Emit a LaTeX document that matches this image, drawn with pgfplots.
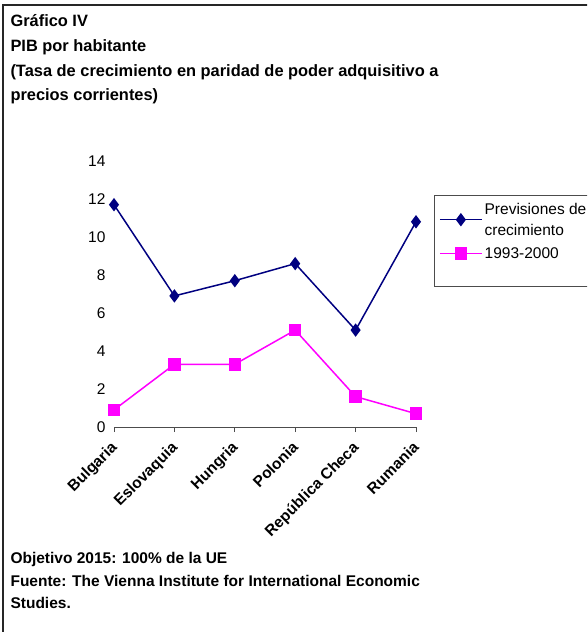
\documentclass[border=0pt]{standalone}
\usepackage{pgfplots}
\pgfplotsset{compat=1.18}
\usepackage{fontspec}
\setmainfont{Liberation Sans}
\definecolor{serieA}{RGB}{0,0,128}
\definecolor{serieB}{RGB}{255,0,255}
\newcommand{\fs}{\fontsize{15.5}{21}\selectfont}
\newcommand{\ft}{\fontsize{16.4}{22}\selectfont}

\begin{document}
\begin{tikzpicture}
\useasboundingbox (0pt,0pt) rectangle (587pt,-632pt);
\begin{scope}[x=1pt,y=-1pt]
\begin{scope}
\clip (0,0) rectangle (587,632);
\draw[line width=1.4pt, black!85] (3,5) rectangle (620,660);
\draw[line width=0.8pt, black!70] (434,195) rectangle (620,286);
\end{scope}

% titulo
\node[anchor=base west, font=\bfseries\ft] at (7,26) {Gráfico IV};
\node[anchor=base west, font=\bfseries\ft] at (7,51) {PIB por habitante};
\node[anchor=base west, font=\bfseries\ft] at (7,76) {(Tasa de crecimiento en paridad de poder adquisitivo a};
\node[anchor=base west, font=\bfseries\ft] at (7,100) {precios corrientes)};

% notas
\node[anchor=base west, font=\bfseries\fs] at (7,563) {Objetivo 2015: 100\% de la UE};
\node[anchor=base west, font=\bfseries\fs] at (7,586) {Fuente: The Vienna Institute for International Economic};
\node[anchor=base west, font=\bfseries\fs] at (7,608) {Studies.};
\end{scope}

\begin{axis}[
  at={(114pt,-427pt)}, anchor=south west,
  scale only axis, width=302pt, height=266pt,
  xmin=0, xmax=5, ymin=0, ymax=14,
  axis x line*=bottom, axis y line*=left,
  y axis line style={draw=none},
  x axis line style={black!70, line width=0.8pt},
  tick align=outside, major tick length=5pt,
  xtick={0,1,2,3,4,5},
  xticklabels={Bulgaria,Eslovaquia,Hungria,Polonia,República Checa,Rumania},
  xtick style={black!70, line width=0.8pt},
  ytick={0,2,...,14},
  ytick style={draw=none},
  /pgf/number format/assume math mode=true,
  yticklabel style={font=\fs},
  xticklabel style={font=\bfseries\fs, rotate=45, anchor=north east, inner sep=2pt, xshift=-7pt, yshift=-1pt},
  clip=false,
  legend style={draw=none, fill=none, at={(1.076,0.851)}, anchor=north west,
    font=\fs, cells={anchor=west, align=left}, inner sep=0pt, row sep=7pt},
  legend image code/.code={\draw[#1, mark repeat=2, mark phase=2] plot coordinates {(0pt,0pt) (21pt,0pt) (42pt,0pt)};},
]
\addplot[color=serieA, line width=1.5pt, mark=diamond*, mark size=5.5pt, mark options={solid, fill=serieA}]
  coordinates {(0,11.7) (1,6.9) (2,7.7) (3,8.6) (4,5.1) (5,10.8)};
\addlegendentry{Previsiones de\\crecimiento}
\addplot[color=serieB, line width=1.5pt, mark=square*, mark size=5.5pt, mark options={solid, fill=serieB}]
  coordinates {(0,0.9) (1,3.3) (2,3.3) (3,5.1) (4,1.6) (5,0.7)};
\addlegendentry{1993-2000}
\end{axis}
\end{tikzpicture}
\end{document}
